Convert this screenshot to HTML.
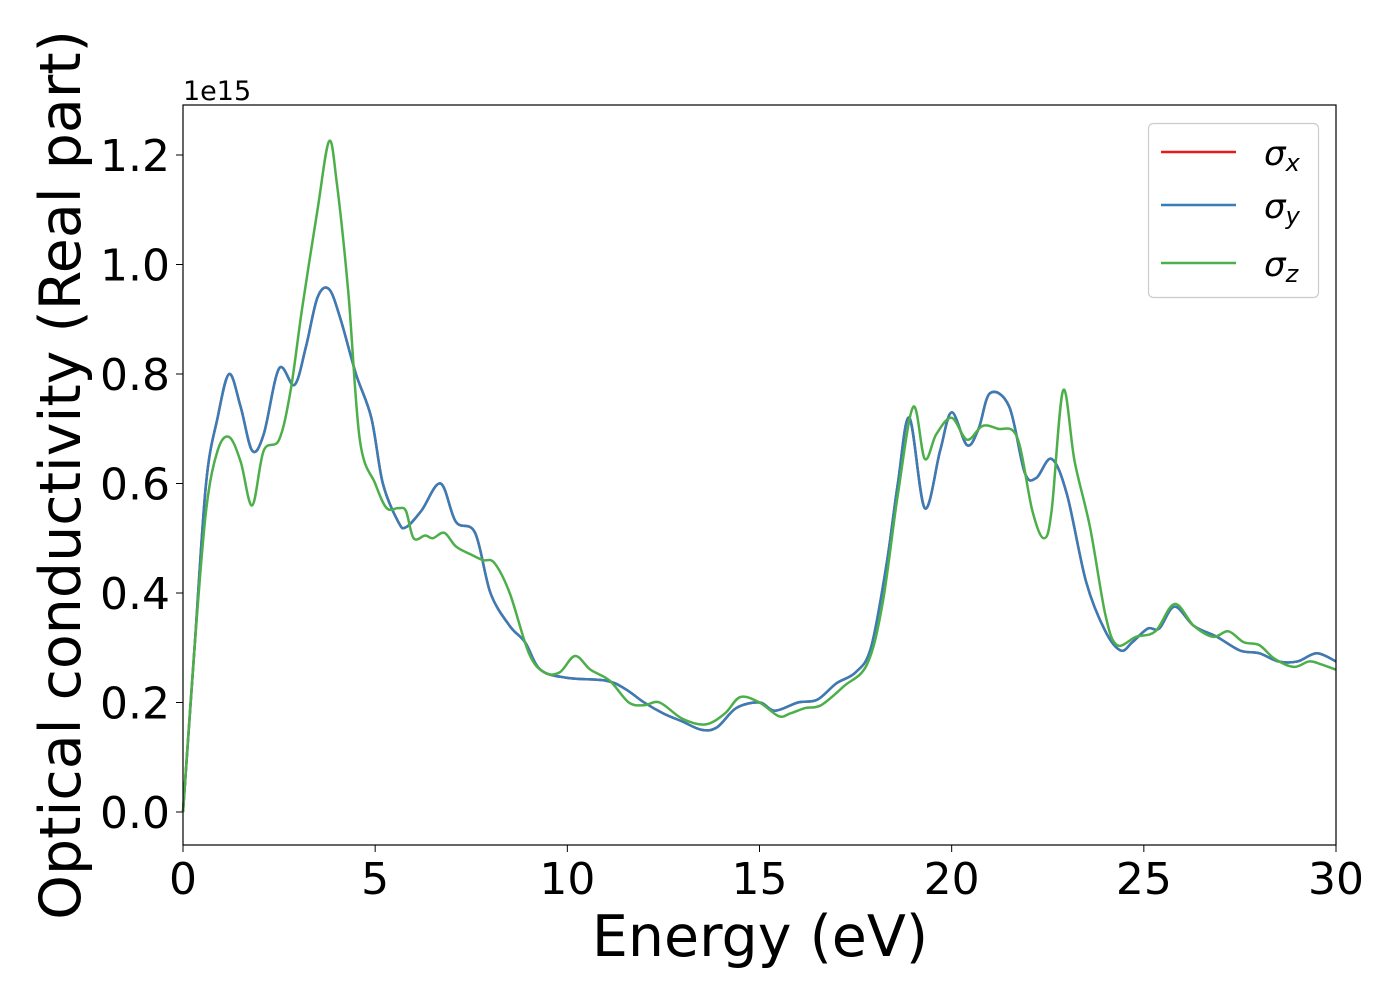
<!DOCTYPE html>
<html><head><meta charset="utf-8"><style>
html,body{margin:0;padding:0;background:#fff;width:1400px;height:1000px;overflow:hidden}
svg text{font-family:"DejaVu Sans","Liberation Sans",sans-serif;fill:#000}
</style></head><body>
<svg id="chart" width="1400" height="1000" xmlns="http://www.w3.org/2000/svg">
<g id="axes"></g>
<g id="series"></g>
<rect x="183" y="105" width="1153" height="740" fill="none" stroke="#000" stroke-width="1.2"/>
<text x="183" y="100" font-size="27">1e15</text>
<text x="760" y="956" font-size="57" text-anchor="middle">Energy (eV)</text>
<text transform="translate(80,475) rotate(-90)" font-size="57" text-anchor="middle">Optical conductivity (Real part)</text>
<g>
<rect x="1148.5" y="123.5" width="170" height="174" rx="5" fill="#fff" fill-opacity="0.8" stroke="#ccc" stroke-width="1.2"/>
<line x1="1161" y1="152" x2="1236" y2="152" stroke="#e41a1c" stroke-width="2.5"/>
<text x="1264" y="165" font-size="34" font-style="italic">σ<tspan font-size="24" dy="6">x</tspan></text>
<line x1="1161" y1="205" x2="1236" y2="205" stroke="#377eb8" stroke-width="2.5"/>
<text x="1264" y="218" font-size="34" font-style="italic">σ<tspan font-size="24" dy="6">y</tspan></text>
<line x1="1161" y1="263" x2="1236" y2="263" stroke="#4daf4a" stroke-width="2.5"/>
<text x="1264" y="276" font-size="34" font-style="italic">σ<tspan font-size="24" dy="6">z</tspan></text>
</g>
</svg>
<script>
const xTicks=[0,5,10,15,20,25,30];
const yTicks=[0.0,0.2,0.4,0.6,0.8,1.0,1.2];
const xyEnergy=[0,0.3,0.6,0.9,1.2,1.5,1.8,2.1,2.5,2.9,3.2,3.5,3.8,4.1,4.5,4.9,5.2,5.6,5.8,6.2,6.7,7.1,7.6,8.0,8.5,8.9,9.3,10,11,11.5,12,12.5,13,13.5,13.9,14.4,15,15.4,16,16.5,17,17.5,17.9,18.3,18.6,18.9,19.3,19.7,20,20.4,20.7,21,21.5,21.9,22.2,22.6,23,23.5,24,24.4,24.7,25.1,25.4,25.8,26.3,26.9,27.5,28,28.5,29,29.5,30];
const xyValues=[0,0.3,0.6,0.72,0.80,0.74,0.66,0.69,0.81,0.78,0.85,0.94,0.955,0.90,0.80,0.72,0.60,0.53,0.52,0.55,0.60,0.53,0.51,0.40,0.34,0.31,0.26,0.245,0.24,0.225,0.20,0.18,0.165,0.15,0.155,0.19,0.20,0.185,0.20,0.205,0.235,0.255,0.30,0.45,0.60,0.72,0.555,0.66,0.73,0.67,0.70,0.765,0.74,0.62,0.61,0.645,0.58,0.42,0.33,0.295,0.31,0.335,0.335,0.375,0.34,0.32,0.295,0.29,0.275,0.275,0.29,0.275];
const zEnergy=[0,0.3,0.6,0.9,1.2,1.5,1.8,2.1,2.5,2.8,3.1,3.5,3.8,4.0,4.3,4.6,5.0,5.3,5.6,5.8,6.0,6.3,6.5,6.8,7.1,7.5,7.8,8.1,8.5,9.0,9.4,9.8,10.2,10.6,11.1,11.6,12,12.4,13,13.6,14.1,14.5,15,15.5,15.8,16.2,16.6,17.2,17.8,18.2,18.6,19.0,19.3,19.6,20.0,20.4,20.8,21.2,21.7,22.1,22.4,22.6,22.9,23.2,23.6,24.0,24.3,24.8,25.3,25.8,26.3,26.8,27.2,27.6,28,28.4,28.9,29.3,29.6,30];
const zValues=[0,0.3,0.55,0.66,0.685,0.64,0.56,0.66,0.68,0.77,0.92,1.10,1.225,1.15,0.95,0.68,0.60,0.555,0.555,0.55,0.50,0.505,0.50,0.51,0.485,0.47,0.46,0.455,0.40,0.29,0.255,0.255,0.285,0.26,0.24,0.20,0.195,0.20,0.17,0.16,0.18,0.21,0.20,0.175,0.18,0.19,0.195,0.23,0.27,0.38,0.58,0.74,0.645,0.69,0.72,0.68,0.705,0.70,0.685,0.55,0.50,0.55,0.77,0.64,0.52,0.36,0.305,0.32,0.33,0.38,0.34,0.32,0.33,0.31,0.305,0.28,0.265,0.275,0.27,0.26];

const X=v=>183+v*(1153/30);
const Y=v=>812-v*547.5;
const NS="http://www.w3.org/2000/svg";
const axes=document.getElementById('axes');
xTicks.forEach(t=>{
  const l=document.createElementNS(NS,'line');
  l.setAttribute('x1',X(t));l.setAttribute('x2',X(t));l.setAttribute('y1',845);l.setAttribute('y2',852);l.setAttribute('stroke','#000');
  
  
  axes.appendChild(l);
  const tx=document.createElementNS(NS,'text');
  tx.setAttribute('x',X(t));tx.setAttribute('y',894);tx.setAttribute('font-size','44');tx.setAttribute('text-anchor','middle');
  tx.textContent=t;
  
  
  axes.appendChild(tx);
});
yTicks.forEach(t=>{
  const l=document.createElementNS(NS,'line');
  l.setAttribute('x1',176);l.setAttribute('x2',183);l.setAttribute('y1',Y(t));l.setAttribute('y2',Y(t));l.setAttribute('stroke','#000');
  
  
  axes.appendChild(l);
  const tx=document.createElementNS(NS,'text');
  tx.setAttribute('x',170);tx.setAttribute('y',Y(t)+16);tx.setAttribute('font-size','44');tx.setAttribute('text-anchor','end');
  tx.textContent=t.toFixed(1);
  
  
  axes.appendChild(tx);
});
function smooth(xs,ys){
  const p=xs.map((x,i)=>[X(x),Y(ys[i])]);
  let d='M'+p[0][0]+','+p[0][1];
  for(let i=0;i<p.length-1;i++){
    const p0=p[i-1]||p[i],p1=p[i],p2=p[i+1],p3=p[i+2]||p2;
    const c1=[p1[0]+(p2[0]-p0[0])/6,p1[1]+(p2[1]-p0[1])/6];
    const c2=[p2[0]-(p3[0]-p1[0])/6,p2[1]-(p3[1]-p1[1])/6];
    d+=`C${c1[0]},${c1[1]} ${c2[0]},${c2[1]} ${p2[0]},${p2[1]}`;
  }
  return d;
}
const ser=document.getElementById('series');
[['#e41a1c',xyEnergy,xyValues,'sigma-x-line'],['#377eb8',xyEnergy,xyValues,'sigma-y-line'],['#4daf4a',zEnergy,zValues,'sigma-z-line']].forEach(s=>{
  const pa=document.createElementNS(NS,'path');
  pa.setAttribute('d',smooth(s[1],s[2]));pa.setAttribute('fill','none');pa.setAttribute('stroke',s[0]);pa.setAttribute('stroke-width','2.5');
  
  
  ser.appendChild(pa);
});
</script>
</body></html>
